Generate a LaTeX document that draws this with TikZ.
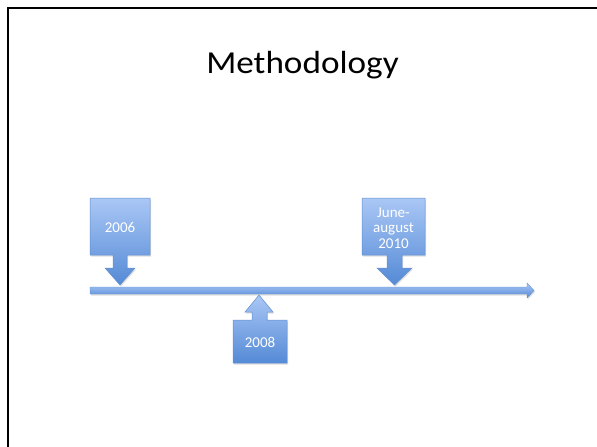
\documentclass[tikz,border=0pt]{standalone}
\usepackage{fontspec}
\setmainfont{Carlito}
\usetikzlibrary{shadows}
\definecolor{blueTop}{RGB}{170,199,245}
\definecolor{blueBot}{RGB}{84,138,214}
\definecolor{blueEdge}{RGB}{98,143,210}
\tikzset{
  callout/.style={top color=blueTop, bottom color=blueBot, draw=blueEdge, line width=0.5pt,
    drop shadow={opacity=0.25, shadow xshift=1pt, shadow yshift=-1.5pt}},
  bar/.style={top color=blueTop, bottom color=blueBot, draw=blueEdge, line width=0.4pt,
    drop shadow={opacity=0.25, shadow xshift=1pt, shadow yshift=-1.5pt}},
  lbl/.style={text=white, font=\fontsize{15}{15.5}\selectfont, align=center, inner sep=0pt},
  ttl/.style={font=\fontsize{32}{36}\selectfont, inner sep=0pt, anchor=base, xscale=1.1}
}
\begin{document}
\begin{tikzpicture}[x=1pt,y=-1pt]
\useasboundingbox (0,0) rectangle (597,447);
\fill[white] (0,0) rectangle (597,447);
% slide frame (left and top edges)
\draw[line width=2.5pt] (7.8,448) -- (7.8,7.8) -- (598,7.8);
% title
\node[ttl] (title) at (302.5,73.3) {Methodology};
% timeline arrow
\shade[bar] (90,287) -- (527,287) -- (527,283) -- (534,290.5) -- (527,298) -- (527,294) -- (90,294) -- cycle;
% 2006 callout (down)
\shade[callout] (90,198) -- (150,198) -- (150,255) -- (127,255) -- (127,268) -- (135,268)
  -- (120,285) -- (105,268) -- (113,268) -- (113,255) -- (90,255) -- cycle;
\node[lbl] (y2006) at (120,227.5) {2006};
% June-august 2010 callout (down)
\shade[callout] (362,198) -- (425,198) -- (425,255) -- (402,255) -- (402,268) -- (412,268)
  -- (394.5,285) -- (377,268) -- (387,268) -- (387,255) -- (362,255) -- cycle;
\node[lbl] (y2010) at (393.5,228) {June-\\august\\2010};
% 2008 callout (up)
\shade[callout] (233,363) -- (287,363) -- (287,320) -- (267,320) -- (267,312) -- (273,312)
  -- (259,295) -- (245,312) -- (252,312) -- (252,320) -- (233,320) -- cycle;
\node[lbl] (y2008) at (260,342) {2008};
\end{tikzpicture}
\end{document}
